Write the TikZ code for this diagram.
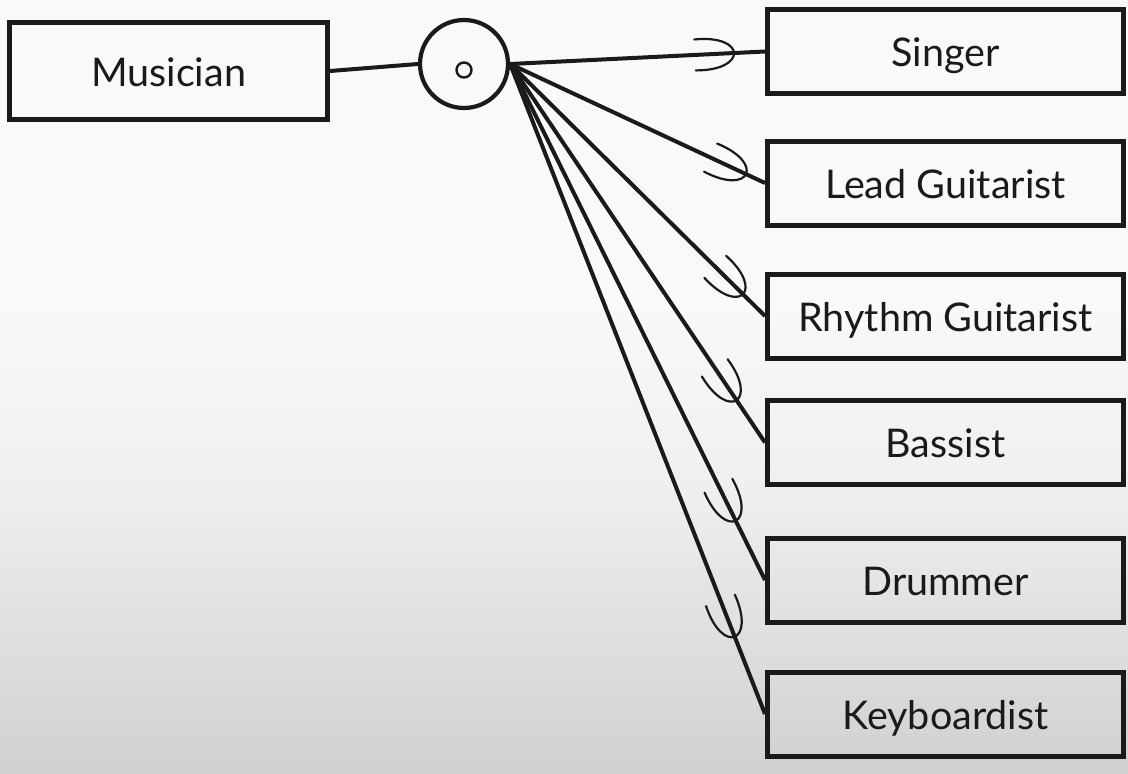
\documentclass[tikz,border=0pt]{standalone}
\usepackage{fontspec}
\setmainfont{Lato}
\usetikzlibrary{decorations.markings}
\definecolor{bgtop}{HTML}{F9F9F9}
\definecolor{bgmid}{HTML}{F0F0F0}
\definecolor{bgbot}{HTML}{D0D0D0}
\definecolor{ink}{HTML}{1A1A1A}
\tikzset{
  box/.style={draw=ink, line width=5pt, minimum width=356pt, minimum height=84pt,
    inner sep=0pt, text=ink, text height=30pt, text depth=0pt,
    font=\fontsize{39.5}{42}\selectfont},
  link/.style={draw=ink, line width=4pt},
  subs/.style={link, postaction={decorate}, decoration={markings,
    mark=at position #1 with {\draw[ink, line width=2.2pt, line cap=round]
      (-22pt,15.5pt) .. controls (30pt,18pt) and (30pt,-18pt) .. (-22pt,-15.5pt);}}}
}
\begin{document}
\begin{tikzpicture}[x=1pt, y=-1pt]
\useasboundingbox (0,0) rectangle (1128,774);
\fill[bgtop] (0,0) rectangle (1128,300);
\shade[top color=bgtop, bottom color=bgmid] (0,299) rectangle (1128,480);
\shade[top color=bgmid, bottom color=bgbot] (0,479) rectangle (1128,774);

\node[box, minimum width=318pt, minimum height=97pt] (mus) at (168.5,71) {Musician};
\node[circle, draw=ink, line width=4.2pt, minimum size=88pt, inner sep=0pt] (circ) at (464,64) {};
\node[circle, draw=ink, line width=2.4pt, minimum size=15pt, inner sep=0pt] (dot) at (464,70) {};

\node[box] (singer) at (945.5,51.5) {Singer};
\node[box] (lead)   at (945.5,183) {Lead Guitarist};
\node[box] (rhythm) at (945.5,316) {Rhythm Guitarist};
\node[box] (bass)   at (945.5,442.5) {Bassist};
\node[box] (drum)   at (945.5,580) {Drummer};
\node[box] (keys)   at (945.5,714) {Keyboardist};

\draw[link] (mus.east) -- (circ.west);
\draw[subs=-48pt] (circ.east) -- (singer.west);
\draw[subs=-38pt] (circ.east) -- (lead.west);
\draw[subs=-48pt] (circ.east) -- (rhythm.west);
\draw[subs=-68pt] (circ.east) -- (bass.west);
\draw[subs=-83pt] (circ.east) -- (drum.west);
\draw[subs=-100pt] (circ.east) -- (keys.west);
\end{tikzpicture}
\end{document}
